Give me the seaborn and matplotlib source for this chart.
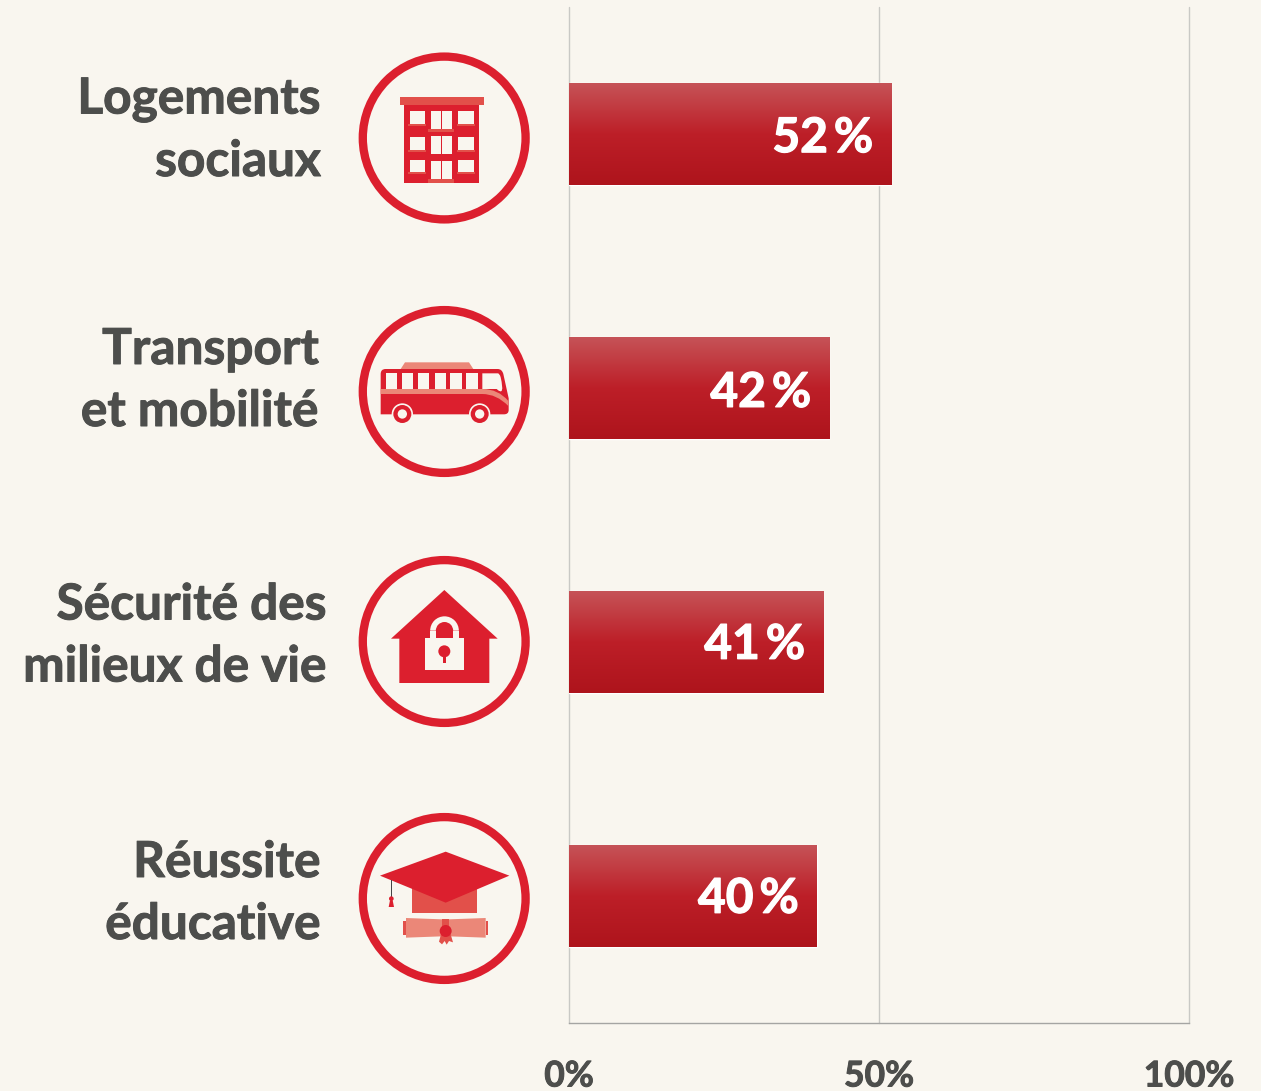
import numpy as np
import pandas as pd
import matplotlib.pyplot as plt
import matplotlib.transforms as mtrans
from matplotlib.colors import LinearSegmentedColormap
from matplotlib.patches import Circle, Polygon, Rectangle, Wedge, PathPatch
from matplotlib.path import Path
import matplotlib.patheffects as pe
import seaborn as sns

categories = ['Logements\nsociaux', 'Transport\net mobilité', 'Sécurité des\nmilieux de vie', 'Réussite\néducative']
values = [52, 42, 41, 40]
value_labels = ['52\u2009%', '42\u2009%', '41\u2009%', '40\u2009%']
x_ticks = [0, 50, 100]
x_tick_labels = ['0%', '50%', '100%']

BG = '#f9f6ef'
RED = '#dc1f2e'
MID = '#e2504a'
LIGHT = '#eb8778'
TEXT = '#4d4e4c'

sns.set_theme(style='white')
plt.rcParams['font.family'] = ['Lato', 'DejaVu Sans']

W, H = 1261, 1091
fig = plt.figure(figsize=(W / 100, H / 100), dpi=100, facecolor=BG)
ax = fig.add_axes([569 / W, (H - 1023) / H, 620 / W, 1016 / H], facecolor=BG)

df = pd.DataFrame({'category': categories, 'value': values})
sns.barplot(data=df, x='value', y='category', orient='h', width=0.405, color='#bd1f28', saturation=1, ax=ax, zorder=2)
ax.set_xlim(0, 100)
ax.set_xlabel('')
ax.set_ylabel('')
ax.set_xticks(x_ticks)
ax.set_xticklabels(x_tick_labels, fontsize=25.5, fontweight='bold', color=TEXT)
ax.set_yticks([])
ax.tick_params(axis='x', length=0, pad=27)
ax.grid(axis='x', color='#c9c9c5', lw=1, zorder=0, clip_on=False)
for s in ['top', 'left', 'right']:
    ax.spines[s].set_visible(False)
ax.spines['bottom'].set_color('#a5a5a3')
ax.spines['bottom'].set_linewidth(1)

# gradient on the bars
cmap = LinearSegmentedColormap.from_list('bar', [(0, '#c65458'), (0.5, '#bd1f28'), (1, '#ae141c')])
grad = np.linspace(0, 1, 128).reshape(-1, 1)
xlim, ylim = ax.get_xlim(), ax.get_ylim()
for bar in ax.patches:
    x0, y0, w, h = bar.get_x(), bar.get_y(), bar.get_width(), bar.get_height()
    im = ax.imshow(grad, cmap=cmap, aspect='auto', extent=[x0, x0 + w, y0 + h, y0], zorder=3)
    im.set_clip_path(bar)
ax.set_xlim(xlim)
ax.set_ylim(ylim)

# value labels
heavy = [pe.withStroke(linewidth=0.9, foreground='white')]
label_dy = [-3, -3.5, -2, -2]
for i, (v, lab) in enumerate(zip(values, value_labels)):
    ax.annotate(lab, (v, i), xytext=(-13, label_dy[i]), textcoords='offset points', ha='right', va='center',
                fontsize=34.5, fontweight='bold', color='white', zorder=4, path_effects=heavy)

# category labels, right edges differ a little in the original
label_right = [321, 319, 327, 321]
label_mid = [130.5, 380.5, 636, 893.5]
heavy_txt = [pe.withStroke(linewidth=0.7, foreground=TEXT)]
for i, cat in enumerate(categories):
    ax.text((label_right[i] - 569) / 620 * 100, (label_mid[i] - 7) / 254 - 0.5, cat, ha='right', va='center',
            fontsize=35.7, fontweight='bold', color=TEXT, linespacing=1.46, clip_on=False, path_effects=heavy_txt)
for lab in ax.get_xticklabels():
    lab.set_path_effects(heavy_txt)

# icons, drawn in pixel coordinates of the picture
ov = fig.add_axes([0, 0, 1, 1], facecolor='none')
ov.set_xlim(0, W)
ov.set_ylim(H, 0)
ov.axis('off')


def tr(ox, oy):
    # the icon shapes were measured on 3x crops
    return mtrans.Affine2D().scale(1 / 3).translate(ox, oy) + ov.transData


def rect(t, x0, x1, y0, y1, c):
    ov.add_patch(Rectangle((x0, y0), x1 - x0, y1 - y0, fc=c, lw=0, transform=t))


def poly(t, pts, c):
    ov.add_patch(Polygon(pts, closed=True, fc=c, lw=0, transform=t))


def circ(t, x, y, r, c):
    ov.add_patch(Circle((x, y), r, fc=c, lw=0, transform=t))


def curve(t, verts, codes, c):
    ov.add_patch(PathPatch(Path(verts, codes), fc=c, lw=0, transform=t))


for cy in [138, 391.5, 641.5, 898.5]:
    ov.add_patch(Circle((444.2, cy), 81.4, fc='none', ec=RED, lw=6))

# building
t = tr(350, 40)
rect(t, 162, 387, 195, 428, RED)
rect(t, 150, 402, 171, 195, MID)
for y0, y1 in [(214, 253), (291, 330), (359, 397)]:
    rect(t, 179, 224, y0, y1, BG)
    rect(t, 325, 371, y0, y1, BG)
    rect(t, 174, 228, y1 - 1, y1 + 5, MID)
    rect(t, 320, 375, y1 - 1, y1 + 5, MID)
for y0, y1 in [(213, 267), (288, 342), (363, 417)]:
    rect(t, 243, 272, y0, y1, BG)
    rect(t, 277, 306, y0, y1, BG)
rect(t, 234, 312, 267, 275, MID)
rect(t, 234, 312, 417, 428, MID)

# bus
t = tr(350, 300)
C3 = Path.CURVE3
poly(t, [(152, 207), (165, 187), (357, 187), (370, 207)], LIGHT)
curve(t, [(92, 222), (92, 207), (107, 207), (443, 207), (456, 207), (460, 222), (476, 295), (476, 330), (476, 343),
          (462, 343), (92, 343), (92, 222)],
      [Path.MOVETO, C3, C3, Path.LINETO, C3, C3, Path.LINETO, Path.LINETO, C3, C3, Path.LINETO, Path.CLOSEPOLY], RED)
for x0, x1 in [(107, 142), (157, 190), (205, 238), (254, 288), (301, 335), (349, 383)]:
    rect(t, x0, x1, 220, 267, BG)
curve(t, [(397, 220), (443, 220), (449, 220), (452, 232), (466, 292), (440, 267), (397, 267), (397, 220)],
      [Path.MOVETO, Path.LINETO, C3, C3, C3, C3, Path.LINETO, Path.CLOSEPOLY], BG)
curve(t, [(92, 267), (397, 267), (445, 267), (475, 303), (475, 318), (440, 282), (397, 282), (92, 282), (92, 267)],
      [Path.MOVETO, Path.LINETO, C3, C3, Path.LINETO, C3, C3, Path.LINETO, Path.CLOSEPOLY], LIGHT)
for x in [157, 389]:
    circ(t, x, 342, 32, BG)
    circ(t, x, 342, 27, RED)
    circ(t, x, 342, 14, BG)

# house with padlock
t = tr(350, 550)
poly(t, [(283, 120), (443, 266), (418, 266), (418, 399), (148, 399), (148, 266), (123, 266)], RED)
rect(t, 225, 341, 263, 359, BG)
ov.add_patch(Wedge((283.5, 242), 43, 180, 360, width=17, fc=BG, lw=0, transform=t))
rect(t, 241, 258, 242, 264, BG)
rect(t, 309, 326, 242, 264, BG)
circ(t, 283, 304, 18, RED)
rect(t, 278, 288, 312, 338, RED)

# graduation cap and diploma
t = tr(350, 805)
rect(t, 186, 381, 250, 324, MID)
poly(t, [(287, 140), (478, 212), (287, 293), (90, 212)], RED)
rect(t, 122, 126, 226, 276, '#444444')
circ(t, 124, 281, 7, RED)
poly(t, [(120, 286), (128, 286), (132, 306), (116, 306)], RED)
rect(t, 159, 168, 347, 390, MID)
rect(t, 407, 415, 347, 390, MID)
poly(t, [(168, 339), (276, 343), (297, 343), (407, 339), (407, 398), (297, 394), (276, 394), (168, 398)], LIGHT)
rect(t, 276, 297, 342, 370, MID)
poly(t, [(273, 388), (302, 388), (309, 412), (297, 408), (290, 419), (284, 408), (276, 418), (267, 410)], MID)
circ(t, 287, 378, 18, RED)

plt.savefig('out.png', dpi=100, facecolor=BG)
